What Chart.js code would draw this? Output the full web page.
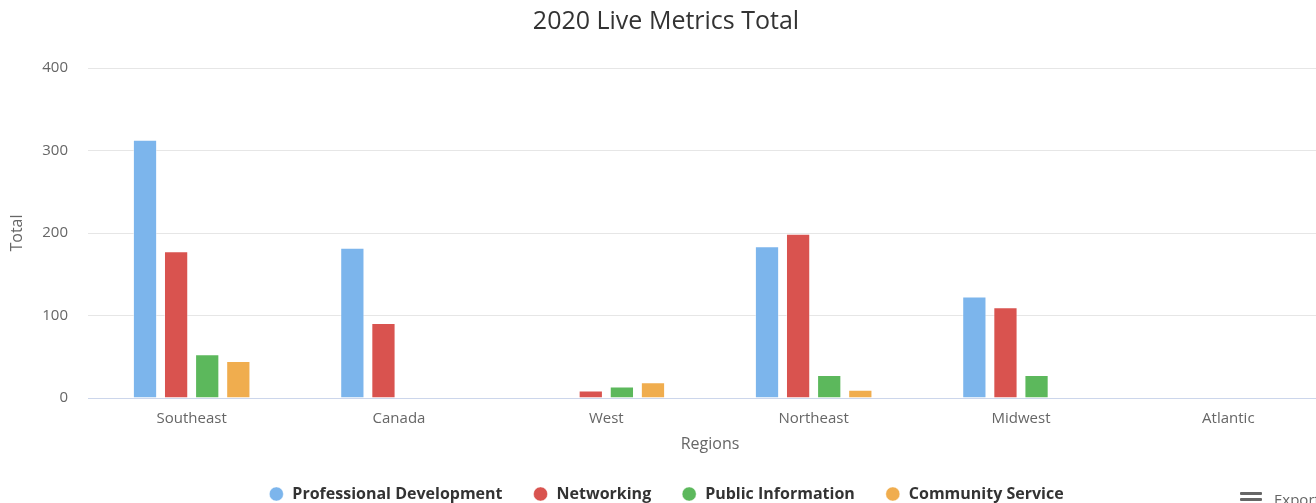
<!DOCTYPE html>
<html>
<head>
<meta charset="utf-8">
<title>2020 Live Metrics Total</title>
<script src="https://cdn.jsdelivr.net/npm/chart.js@4/dist/chart.umd.min.js"></script>
<style>
  html, body { margin: 0; padding: 0; background: #fff; overflow: hidden; }
  #wrap { position: relative; width: 1334px; height: 503px; }
  #export { position: absolute; left: 1240px; top: 489px; font: 15px "Open Sans", sans-serif; color: #666; white-space: nowrap; }
  #export .bars { display: inline-block; width: 22px; vertical-align: top; margin-right: 12px; margin-top: 3px; }
  #export .bars i { display: block; height: 3px; background: #666; margin-bottom: 3px; border-radius: 1px; }
</style>
</head>
<body>
<div id="wrap">
  <canvas id="metricsChart" width="1334" height="503"></canvas>
  <div id="export"><span class="bars"><i></i><i></i><i></i></span>Export</div>
</div>
<script>
// regiones y series
const regions = ['Southeast', 'Canada', 'West', 'Northeast', 'Midwest', 'Atlantic'];
const professionalDevelopment = [313, 182, 0, 184, 123, 0];
const networking = [178, 91, 9, 199, 110, 0];
const publicInformation = [53, 0, 14, 28, 28, 0];
const communityService = [45, 0, 19, 10, 0, 0];
const yTicks = [0, 100, 200, 300, 400];

const fontFamily = '"Open Sans", "DejaVu Sans", sans-serif';

function makeDataset(label, data, color) {
  return {
    label: label,
    data: data,
    backgroundColor: color,
    borderColor: 'rgba(255,255,255,0.45)',
    borderWidth: 1,
    categoryPercentage: 0.6,
    barPercentage: 0.78
  };
}

const ctx = document.getElementById('metricsChart').getContext('2d');
const metricsChart = new Chart(ctx, {
  type: 'bar',
  data: {
    labels: regions,
    datasets: [
      makeDataset('Professional Development', professionalDevelopment, '#7cb5ec'),
      makeDataset('Networking', networking, '#d9534f'),
      makeDataset('Public Information', publicInformation, '#5cb85c'),
      makeDataset('Community Service', communityService, '#f0ad4e')
    ]
  },
  options: {
    responsive: false,
    animation: false,
    layout: { padding: { left: 0, right: 2, top: 0, bottom: -9 } },
    plugins: {
      title: {
        display: true,
        text: '2020 Live Metrics Total',
        color: '#333',
        font: { family: fontFamily, size: 25, weight: 'normal' },
        padding: { top: 7, bottom: 31 }
      },
      legend: {
        position: 'bottom',
        labels: {
          usePointStyle: true,
          pointStyle: 'circle',
          boxHeight: 10,
          boxWidth: 16,
          padding: 30,
          color: '#333',
          font: { family: fontFamily, size: 16, weight: 'bold' }
        }
      },
      tooltip: { enabled: false }
    },
    scales: {
      x: {
        grid: { display: false, drawTicks: false },
        border: { display: true, color: '#ccd6eb', width: 1 },
        ticks: { color: '#666', padding: 12, font: { family: fontFamily, size: 15 } },
        title: {
          display: true,
          text: 'Regions',
          color: '#666',
          font: { family: fontFamily, size: 16 },
          padding: { top: 5, bottom: 2 }
        },
        afterFit: function (scale) { scale.height = 58; }
      },
      y: {
        min: 0,
        max: 400,
        afterBuildTicks: function (scale) { scale.ticks = yTicks.map(v => ({ value: v })); },
        grid: {
          drawTicks: false,
          color: c => (c.tick && c.tick.value === 0 ? '#ccd6eb' : '#e6e6e6')
        },
        border: { display: false },
        ticks: { color: '#666', padding: 20, font: { family: fontFamily, size: 15 } },
        title: {
          display: true,
          text: 'Total',
          color: '#666',
          font: { family: fontFamily, size: 16 },
          padding: { top: 8, bottom: 0 }
        },
        afterFit: function (scale) { scale.width = 88; }
      }
    }
  }
});
</script>
</body>
</html>
